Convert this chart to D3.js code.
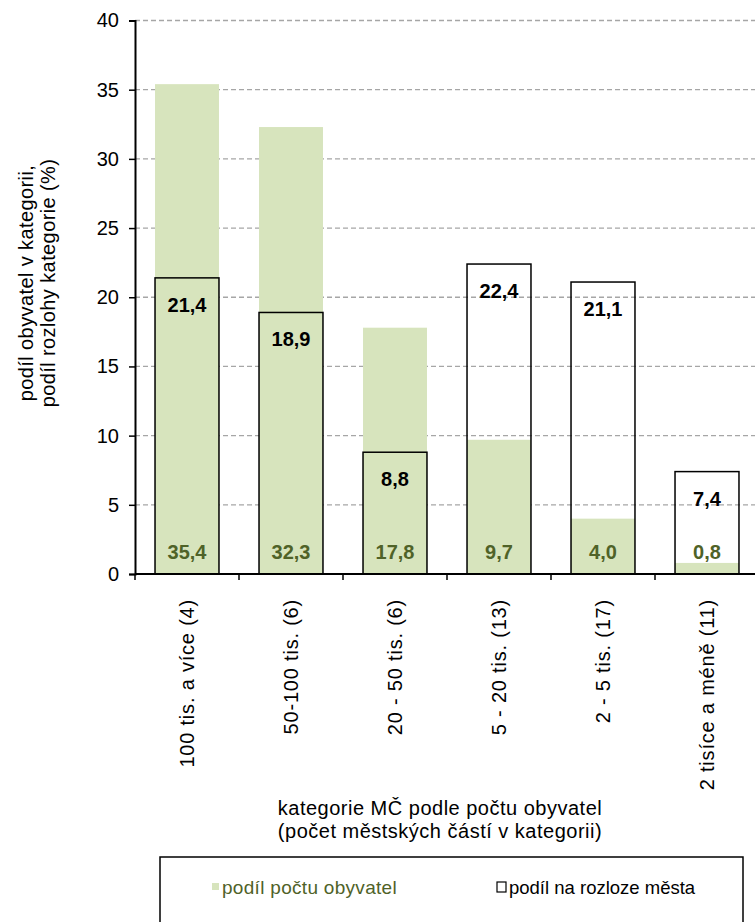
<!DOCTYPE html>
<html><head><meta charset="utf-8">
<script src="https://cdn.jsdelivr.net/npm/d3@7/dist/d3.min.js"></script>
<style>body{margin:0;background:#fff}svg{display:block;font-family:"Liberation Sans",Arial,sans-serif}</style>
</head><body><svg id="c" width="755" height="922"></svg>
<script>
const categories = ["100 tis. a více (4)","50-100 tis. (6)","20 - 50 tis. (6)","5 - 20 tis. (13)","2 - 5 tis. (17)","2 tisíce a méně (11)"];
const populationShare = [35.4, 32.3, 17.8, 9.7, 4.0, 0.8];
const areaShare = [21.4, 18.9, 8.8, 22.4, 21.1, 7.4];
const yTicks = [0,5,10,15,20,25,30,35,40];
const seriesNames = ["podíl počtu obyvatel","podíl na rozloze města"];

(function(){
const svg = d3.select("#c");
const pL = 135, pR = 759, pT = 20.5, pB = 574;
const green = "#d7e4bd", darkGreen = "#4f6228";
const fmt = v => d3.format(".1f")(v).replace(".", ",");

const x = d3.scaleBand().domain(categories).range([pL, pR]).paddingInner(0.385).paddingOuter(0.1925);
const y = d3.scaleLinear().domain([0,40]).range([pB, pT]);

// gridlines
svg.append("g").selectAll("line").data(yTicks.filter(t=>t>0)).join("line")
  .attr("x1", pL).attr("x2", 755).attr("y1", d=>y(d)).attr("y2", d=>y(d))
  .attr("stroke", "#a6a6a6").attr("stroke-width", 1.3).attr("stroke-dasharray", "5,3");

// green bars
svg.append("g").selectAll("rect").data(populationShare).join("rect")
  .attr("x", (d,i)=>x(categories[i])).attr("width", x.bandwidth())
  .attr("y", d=>y(d)).attr("height", d=>y(0)-y(d)).attr("fill", green);

// outline bars
svg.append("g").selectAll("rect").data(areaShare).join("rect")
  .attr("x", (d,i)=>x(categories[i])).attr("width", x.bandwidth())
  .attr("y", d=>y(d)).attr("height", d=>y(0)-y(d))
  .attr("fill", "none").attr("stroke", "#000").attr("stroke-width", 1.5);

// y axis
const yAxis = d3.axisLeft(y).tickValues(yTicks).tickSize(6).tickPadding(10).tickFormat(d3.format("d"));
const gy = svg.append("g").attr("transform", `translate(${pL},0)`).call(yAxis);
gy.select(".domain").attr("stroke", "#000").attr("stroke-width", 2);
gy.selectAll(".tick line").attr("stroke", "#000").attr("stroke-width", 1.5);
gy.selectAll(".tick text").attr("font-size", 20).attr("fill", "#000").attr("font-family", "Liberation Sans, Arial, sans-serif");

// x axis
const step = x.step();
const xAxisLine = svg.append("g");
xAxisLine.append("line").attr("x1", pL).attr("x2", 755).attr("y1", pB).attr("y2", pB)
  .attr("stroke", "#000").attr("stroke-width", 2);
xAxisLine.selectAll("line.t").data(d3.range(categories.length)).join("line").attr("class","t")
  .attr("x1", i=>x(categories[i]) - x.paddingInner()*step/2).attr("x2", i=>x(categories[i]) - x.paddingInner()*step/2)
  .attr("y1", pB).attr("y2", pB+6).attr("stroke", "#000").attr("stroke-width", 1.5);

// category labels
svg.append("g").selectAll("text").data(categories).join("text")
  .attr("transform", d=>`translate(${x(d)+x.bandwidth()/2+7},${pB+25}) rotate(-90)`)
  .attr("text-anchor", "end").attr("font-size", 20).attr("letter-spacing", 0.8).attr("fill", "#000").text(d=>d);

// value labels
svg.append("g").selectAll("text").data(areaShare).join("text")
  .attr("x", (d,i)=>x(categories[i])+x.bandwidth()/2).attr("y", d=>y(d)+34)
  .attr("text-anchor", "middle").attr("font-size", 20).attr("font-weight", "bold").attr("fill", "#000").text(fmt);
svg.append("g").selectAll("text").data(populationShare).join("text")
  .attr("x", (d,i)=>x(categories[i])+x.bandwidth()/2).attr("y", pB-15)
  .attr("text-anchor", "middle").attr("font-size", 20).attr("font-weight", "bold").attr("fill", darkGreen).text(fmt);

// y title
svg.append("text").attr("transform", "translate(33,283) rotate(-90)").attr("text-anchor","middle")
  .attr("font-size", 20).attr("letter-spacing", 0.4).text("podíl obyvatel v kategorii,");
svg.append("text").attr("transform", "translate(55,283) rotate(-90)").attr("text-anchor","middle")
  .attr("font-size", 20).attr("letter-spacing", 0.4).text("podíl rozlohy kategorie (%)");

// x title
svg.append("text").attr("x", 440).attr("y", 815).attr("text-anchor","middle").attr("font-size",20).attr("letter-spacing",0.5).text("kategorie MČ podle počtu obyvatel");
svg.append("text").attr("x", 440).attr("y", 838).attr("text-anchor","middle").attr("font-size",20).attr("letter-spacing",0.5).text("(počet městských částí v kategorii)");

// legend
const lg = svg.append("g");
lg.append("rect").attr("x", 160).attr("y", 857).attr("width", 583).attr("height", 70)
  .attr("fill", "none").attr("stroke", "#000").attr("stroke-width", 1.5);
lg.append("rect").attr("x", 212).attr("y", 883).attr("width", 7).attr("height", 7).attr("fill", green);
lg.append("text").attr("x", 222).attr("y", 894).attr("font-size", 19).attr("letter-spacing", 0.3).attr("fill", darkGreen).text(seriesNames[0]);
lg.append("rect").attr("x", 497).attr("y", 882).attr("width", 9).attr("height", 10).attr("fill", "none").attr("stroke", "#000").attr("stroke-width", 1.2);
lg.append("text").attr("x", 509).attr("y", 894).attr("font-size", 18.5).attr("fill", "#000").text(seriesNames[1]);
})();
</script></body></html>
